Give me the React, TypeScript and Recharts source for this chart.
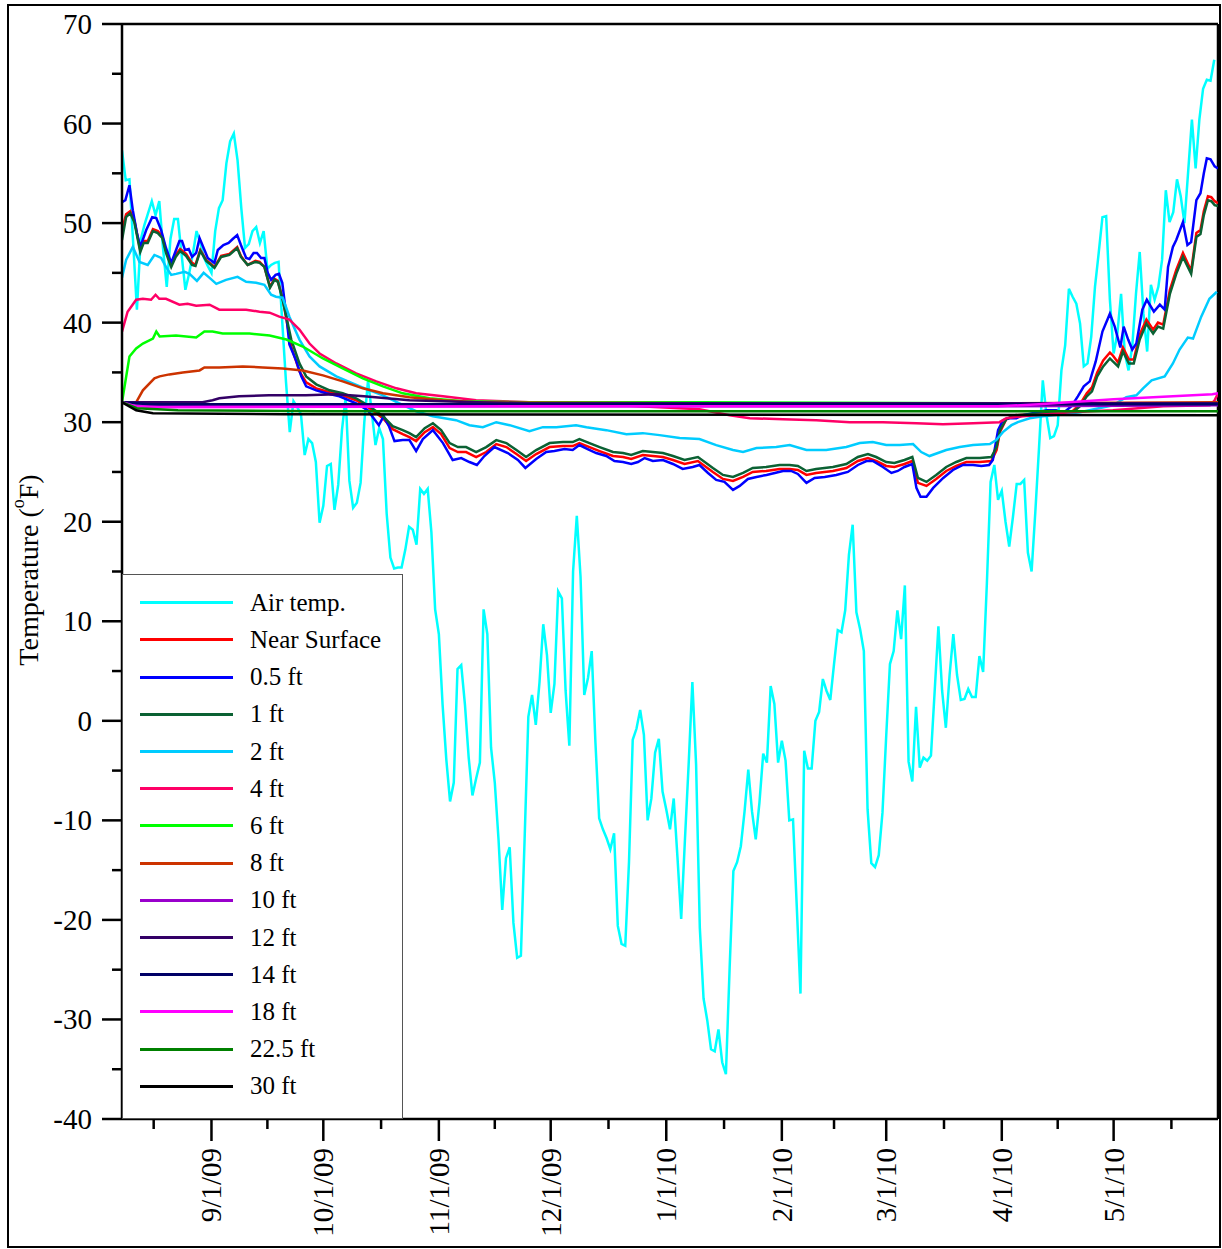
import { Label, Line, LineChart, ReferenceLine, XAxis, YAxis } from "recharts";

const FONT = '"Liberation Serif", "Times New Roman", serif';

// x values are days counted from 8/1/09
const MONTH_TICKS = [31, 61, 92, 122, 153, 184, 212, 243, 273];
const MONTH_LABELS = ["9/1/09", "10/1/09", "11/1/09", "12/1/09", "1/1/10", "2/1/10", "3/1/10", "4/1/10", "5/1/10"];
const MID_TICKS = [15.5, 46, 76.5, 107, 137.5, 168.5, 198, 227.5, 258, 288.5];
const Y_TICKS = [-40, -35, -30, -25, -20, -15, -10, -5, 0, 5, 10, 15, 20, 25, 30, 35, 40, 45, 50, 55, 60, 65, 70];

// daily air temperature, first value is 8/8/09
const AIR_START_DAY = 7;
const AIR_TEMP = [
  57.3, 54.3, 54.4, 48, 41.3, 48.3, 49.8, 51, 52.2, 50.8, 52.2, 47.5, 43.6, 48.4, 50.4, 50.4, 46.8, 43.3, 44.9, 46.9,
  49.2, 48, 46.5, 45.7, 45, 49.2, 51.5, 52.3, 56, 58.2, 59, 56.3, 51.5, 47.5, 47.9, 49.2, 49.6, 48, 49.2, 45.4,
  45.8, 46, 46.1, 40, 34, 29, 32.1, 31.5, 30.8, 26.7, 28.3, 27.9, 26, 19.9, 21.6, 25.6, 25.8, 21.2, 23.7, 29.2,
  32.5, 24.1, 21.4, 21.9, 23.9, 30, 34.2, 31, 27.7, 29.4, 28.3, 20.8, 16.4, 15.3, 15.4, 15.4, 17.2, 19.5, 19.2, 17.7,
  23.3, 22.8, 23.3, 18.9, 11.2, 8.7, 1.6, -3.9, -8.1, -6.2, 5.2, 5.6, 1.6, -3.7, -7.5, -5.8, -4.2, 11.2, 8.7, -2.7,
  -6.2, -11.9, -19, -13.8, -12.7, -20.3, -23.8, -23.6, -11.9, 0.4, 2.6, -0.4, 3.9, 9.7, 6.6, 0.8, 3.7, 13, 12.3, 3,
  -2.5, 15, 20.6, 14.5, 2.6, 4.3, 7, -2.2, -9.8, -10.9, -11.8, -12.9, -11.3, -20.6, -22.4, -22.6, -14.2, -1.9, -0.8, 1.1,
  -1.4, -10, -7.8, -3.2, -1.8, -7.1, -8.9, -10.9, -7.8, -13.7, -19.9, -12, -4.4, 3.9, -4.4, -20.8, -27.9, -30.1, -33, -33.2,
  -31, -34.3, -35.5, -24.8, -15.1, -14.2, -12.6, -9.1, -4.9, -9.1, -11.9, -8.2, -3.3, -4.2, 3.5, 1.7, -4.2, -2, -4, -10,
  -9.9, -18.6, -27.4, -3, -4.8, -4.8, 0, 0.9, 4.2, 3, 2.1, 5.7, 9.1, 8.9, 11.1, 16.7, 19.7, 10.9, 9.2, 7,
  -8.9, -14.3, -14.7, -13.5, -9.2, -1.5, 5.7, 7, 11.1, 8.2, 13.6, -4.1, -6.1, 1.4, -4.7, -3.7, -4, -3.5, 3, 9.5,
  3, -0.7, 4.6, 8.7, 4.6, 2.1, 2.2, 3.2, 2.4, 2.4, 6.5, 4.9, 13.8, 24, 25.7, 22.2, 23.1, 20, 17.5, 20.5,
  23.8, 23.8, 24.2, 16.9, 15, 21, 27.5, 34.2, 30.7, 28.4, 28.6, 29.7, 35.2, 37.7, 43.4, 42.6, 41.9, 39.9, 35.6, 35.9,
  38.6, 43.6, 47, 50.6, 50.7, 42.3, 36.9, 38.9, 42.9, 36.9, 35.2, 37.6, 42.9, 47.1, 40.9, 37.1, 43.8, 42.3, 43.6, 46.3,
  53.3, 50.1, 51.1, 54.4, 52.7, 50, 55.2, 60.4, 55.5, 60.4, 63.5, 64.4, 64.3, 66.4,
];

// soil series: [day, temperature]
const NEAR_SURFACE: [number, number][] = [
  [7, 49.3], [8.1, 50.9], [9.2, 51.2], [10.3, 50.3], [11.9, 47.3], [12.8, 48.2], [13.9, 48.2], [15.3, 49.4], [16.6, 49.2],
  [17.8, 48.7], [18.8, 47.2], [20.2, 45.8], [21.4, 46.8], [22.6, 47.4], [24.2, 46.9], [25.8, 46], [26.7, 45.8], [28, 47.3],
  [29.6, 46.3], [31.8, 45.6], [33.6, 46.7], [35.8, 46.9], [37.9, 47.6], [38.9, 46.7], [40.7, 45.8], [42.8, 46.2], [43.9, 46.1],
  [45.2, 45.6], [46.7, 43.6], [47.9, 44.4], [48.8, 44.2], [50.1, 42.4], [52.4, 37.6], [54.6, 35.1], [56.4, 34], [59.1, 33.4],
  [62.7, 33], [66.2, 32.7], [69.8, 32.2], [73.4, 31.4], [77, 30.4], [79.6, 29.3], [82.3, 28.8], [84.1, 28.5], [85.9, 28.1],
  [88.2, 29], [90.4, 29.5], [92.6, 28.8], [94.9, 27.4], [97.1, 27], [99.3, 27], [102, 26.5], [104.7, 27], [107.4, 27.8],
  [110.1, 27.5], [112.8, 26.8], [115.4, 26.1], [118.1, 26.8], [121.7, 27.5], [125.3, 27.6], [127.9, 27.6], [129.7, 27.9],
  [132.4, 27.5], [135.1, 27.1], [138.7, 26.6], [141.4, 26.5], [143.6, 26.3], [146.7, 26.7], [149.4, 26.6], [152.1, 26.5],
  [154.8, 26.2], [157.9, 25.8], [161.5, 26.1], [165.5, 25], [168.2, 24.3], [170.9, 24.1], [173.6, 24.5], [176.2, 25],
  [179.8, 25.1], [183.4, 25.3], [186.1, 25.3], [188.3, 25.2], [190.6, 24.7], [193.2, 24.9], [197.7, 25.1], [201.3, 25.4],
  [204.4, 26.1], [207.1, 26.4], [209.3, 26.1], [212, 25.6], [214.2, 25.5], [216.9, 25.8], [219, 26.1], [220.5, 23.9],
  [222.8, 23.6], [225.4, 24.3], [228.1, 25.1], [230.8, 25.6], [233.5, 26], [237.1, 26], [240.2, 26.1], [241.6, 27.2],
  [242.5, 29], [244.2, 30.3], [246.5, 30.7], [251.4, 30.8], [255, 30.9], [261.7, 31], [264, 31.8], [265.8, 32.9],
  [267.2, 33.5], [268.6, 35], [270.2, 36.2], [272, 37], [272.8, 36.7], [274.2, 36], [275.5, 37.5], [277.1, 36.3],
  [278.4, 36.3], [280, 38.8], [281.8, 40.3], [283.6, 39.3], [284.9, 40], [286.3, 39.8], [288.1, 43.3], [289.8, 45.3],
  [291.6, 47], [293.8, 45.2], [295.2, 49], [296.3, 49.3], [297.2, 51.2], [298.3, 52.7], [299.2, 52.6], [300.1, 52.2], [301, 52],
];

const HALF_FT: [number, number][] = [
  [7, 52.1], [7.9, 52.3], [9, 53.8], [9.9, 51.3], [11, 49], [11.9, 47.6], [13.5, 49.3], [15.1, 50.6], [16.2, 50.5],
  [17.5, 49.3], [18.8, 47.5], [20.2, 46], [21.5, 47.3], [22.4, 48.2], [23.1, 48.2], [23.9, 47.3], [24.9, 47.4], [25.8, 46.6],
  [26.9, 47], [27.8, 48.5], [28.9, 47.5], [30, 46.5], [31.8, 46], [32.7, 47.3], [34.2, 47.8], [35.6, 48], [36.7, 48.4],
  [37.9, 48.8], [38.9, 47.8], [40.3, 46.5], [41.2, 46.4], [42.3, 47], [43.2, 47], [44.3, 46.5], [45.2, 46.5], [46.1, 45],
  [47, 44.3], [48.2, 44.8], [49.1, 44.9], [50, 44], [51.2, 40.3], [51.9, 37.8], [53.7, 36.2], [55.1, 34.6], [56.4, 33.6],
  [59.1, 33.2], [61.8, 32.9], [65.3, 32.6], [69.8, 31.9], [72.9, 31.2], [75.9, 29.7], [77.2, 30.6], [78.6, 29.6], [80.1, 28.1],
  [82.3, 28.2], [84.1, 28.2], [85.9, 27.1], [87.7, 28.3], [90.4, 29.2], [93.1, 27.9], [95.7, 26.2], [98, 26.4], [100.2, 26],
  [102.2, 25.7], [104.2, 26.6], [106.9, 27.5], [110.5, 26.9], [113.2, 26.2], [115.2, 25.4], [118.1, 26.3], [120.8, 27],
  [123, 27.1], [125.7, 27.3], [127.9, 27.2], [129.7, 27.7], [131.9, 27.3], [134.2, 26.9], [136.9, 26.6], [139.1, 26.1],
  [141.4, 26], [143.6, 25.8], [145.4, 26], [147.2, 26.4], [149.4, 26.1], [152.1, 26.2], [154.8, 25.8], [157.4, 25.3],
  [160.1, 25.5], [161.9, 25.7], [164.2, 24.9], [166.4, 24.2], [168.6, 24], [170.9, 23.2], [172.7, 23.6], [174.9, 24.3],
  [177.2, 24.5], [179.9, 24.7], [182.1, 24.9], [184.3, 25.1], [186.5, 25.1], [188.3, 24.8], [190.6, 23.9], [192.8, 24.4],
  [195.5, 24.5], [198.6, 24.7], [201.7, 25], [204.4, 25.7], [206.7, 26.1], [208.4, 26.1], [211.1, 25.5], [213.4, 24.9],
  [215.1, 25.1], [216.9, 25.5], [219, 25.8], [220.1, 23.4], [221.2, 22.5], [222.8, 22.5], [224.6, 23.4], [227.3, 24.4],
  [229.9, 25.2], [232.6, 25.7], [235.3, 25.7], [237.5, 25.6], [239.6, 25.7], [240.6, 26.2], [242, 29.2], [243.3, 30.2],
  [245.1, 30.4], [246.9, 30.4], [248.7, 30.7], [255, 31.2], [257.6, 31.2], [259.4, 30.9], [261.7, 31.6], [263.4, 32.6],
  [265, 33.6], [266.6, 34.1], [268.2, 36.1], [270, 39.1], [272, 40.9], [273.3, 39.6], [274.8, 37.5], [275.7, 39.6],
  [276.9, 38.3], [278, 37.3], [279.1, 37.9], [280.7, 41.3], [281.9, 42.3], [283.8, 41.1], [285.4, 41.8], [286.7, 41.3],
  [287.6, 45.6], [288.9, 47.6], [289.8, 48.3], [291.6, 50.1], [292.8, 47.8], [293.8, 48.1], [295.2, 52.3], [296.3, 53],
  [297.2, 55], [298, 56.5], [299, 56.4], [300.1, 55.7], [301, 55.5],
];

const ONE_FT: [number, number][] = [
  [7, 48.3], [8.1, 50.6], [9.2, 51], [10.3, 50.1], [11.9, 47.1], [12.8, 48], [13.9, 48], [15.3, 49.2], [16.6, 49],
  [17.8, 48.5], [18.8, 47], [20.2, 45.6], [21.4, 46.6], [22.6, 47.2], [24.2, 46.7], [25.8, 45.8], [26.7, 45.7], [28, 47.2],
  [29.6, 46.2], [31.8, 45.5], [33.6, 46.6], [35.8, 46.8], [37.9, 47.5], [38.9, 46.6], [40.7, 45.8], [42.8, 46.1], [43.9, 46],
  [45.2, 45.6], [46.7, 43.5], [47.9, 44.3], [48.8, 44.1], [50.1, 42.3], [52.4, 38.3], [54.6, 35.9], [56.4, 34.6], [59.1, 33.8],
  [62.7, 33.2], [66.2, 32.9], [69.8, 32.4], [73.4, 31.6], [77, 30.6], [79.6, 29.6], [82.3, 29.2], [84.1, 28.9], [85.9, 28.5],
  [88.2, 29.4], [90.4, 29.9], [92.6, 29.2], [94.9, 27.9], [97.1, 27.5], [99.3, 27.5], [102, 27], [104.7, 27.5], [107.4, 28.2],
  [110.1, 27.9], [112.8, 27.2], [115.4, 26.5], [118.1, 27.2], [121.7, 27.9], [125.3, 28], [127.9, 28], [129.7, 28.3],
  [132.4, 27.9], [135.1, 27.5], [138.7, 27], [141.4, 26.9], [143.6, 26.7], [146.7, 27.1], [149.4, 27], [152.1, 26.9],
  [154.8, 26.6], [157.9, 26.2], [161.5, 26.5], [165.5, 25.4], [168.2, 24.7], [170.9, 24.5], [173.6, 24.9], [176.2, 25.4],
  [179.8, 25.5], [183.4, 25.7], [186.1, 25.7], [188.3, 25.6], [190.6, 25.1], [193.2, 25.3], [197.7, 25.5], [201.3, 25.8],
  [204.4, 26.5], [207.1, 26.8], [209.3, 26.5], [212, 26], [214.2, 25.9], [216.9, 26.2], [219, 26.5], [220.5, 24.4],
  [222.8, 24], [225.4, 24.7], [228.1, 25.5], [230.8, 26], [233.5, 26.4], [237.1, 26.4], [240.2, 26.5], [241.6, 27.5],
  [242.5, 29.2], [244.2, 30.3], [246.5, 30.7], [251.4, 30.8], [255, 30.9], [261.7, 30.9], [264, 31.6], [265.8, 32.6],
  [267.2, 33.1], [268.6, 34.6], [270.2, 35.6], [272, 36.4], [272.8, 36.1], [274.2, 35.6], [275.5, 37.1], [277.1, 35.9],
  [278.4, 35.9], [280, 38.3], [281.8, 39.9], [283.6, 38.9], [284.9, 39.6], [286.3, 39.4], [288.1, 42.9], [289.8, 44.9],
  [291.6, 46.6], [293.8, 44.9], [295.2, 48.6], [296.3, 48.9], [297.2, 50.8], [298.3, 52.3], [299.2, 52.2], [300.1, 51.8], [301, 51.7],
];

const TWO_FT: [number, number][] = [
  [7, 44.5], [8.1, 46.3], [9.9, 47.6], [11.7, 46.1], [13.9, 45.8], [15.7, 46.8], [17.5, 46.5], [18.8, 45.6], [20.2, 44.8],
  [21.5, 44.9], [23.8, 45.1], [25.1, 44.9], [27.1, 44.2], [28.9, 45], [30.5, 44.5], [32.3, 43.9], [34.9, 44.3], [38, 44.6],
  [40.3, 44.1], [43, 44], [45.2, 43.8], [47, 42.8], [48.3, 42.6], [50.1, 42.5], [51.9, 40.6], [54.6, 38.3], [57.3, 36.6],
  [60, 35.6], [64.5, 34.6], [68.9, 33.9], [73.4, 33.2], [77, 32.7], [81.4, 31.9], [85.9, 31.1], [90.4, 30.6], [96.6, 30.2],
  [100.2, 29.7], [103.8, 29.5], [107.4, 30], [111, 29.7], [116.3, 29.1], [119.9, 29.5], [123.5, 29.5], [128.8, 29.7],
  [131.6, 29.5], [136.9, 29.2], [142.3, 28.8], [146.7, 28.9], [151.2, 28.7], [156.6, 28.4], [161.9, 28.3], [166.4, 27.7],
  [170.9, 27.2], [173.6, 27], [177.2, 27.4], [182.5, 27.5], [186.1, 27.7], [190.6, 27.2], [195.9, 27.2], [201.3, 27.5],
  [204.9, 27.9], [208.4, 28], [212, 27.7], [215.6, 27.7], [219.2, 27.8], [221.4, 27], [223.6, 26.6], [228.1, 27.2],
  [231.7, 27.5], [235.3, 27.7], [239.8, 27.8], [241.5, 28.2], [243.3, 29], [245.6, 29.7], [247.3, 30], [250.5, 30.4],
  [254, 30.6], [259.4, 30.8], [264, 31], [272.8, 31.7], [276.4, 32.5], [279.1, 32.7], [280.9, 33.4], [283.2, 34.2],
  [286.7, 34.6], [288.9, 35.9], [290.7, 37.3], [292.9, 38.5], [294.3, 38.4], [296.5, 40.6], [298.7, 42.4], [300.7, 43.1],
];

const FOUR_FT: [number, number][] = [
  [7, 39.1], [8.5, 41.1], [10.8, 42.3], [12.6, 42.4], [14.8, 42.3], [16, 42.8], [17, 42.4], [18.8, 42.4], [22.4, 41.8],
  [24.6, 41.9], [26.9, 41.7], [30.5, 41.8], [33.1, 41.3], [40.3, 41.3], [43.9, 41.1], [46.6, 41], [49.2, 40.6], [51.9, 40.3],
  [54.6, 39.3], [57.3, 37.9], [60, 36.9], [64.5, 35.9], [69.8, 34.9], [75.2, 34.1], [80.6, 33.4], [85.9, 32.9], [93.1, 32.6],
  [102, 32.2], [116.3, 32], [135.1, 31.8], [161.9, 31.3], [170, 30.7], [175.4, 30.4], [184.3, 30.3], [193.2, 30.2],
  [202.2, 30], [211.1, 30], [220.1, 29.9], [227.2, 29.8], [235.3, 29.9], [242.4, 30], [244.2, 30.4], [248.7, 30.6],
  [255, 30.8], [261.2, 31], [272.8, 31.2], [286.3, 31.6], [298.8, 31.7], [300.1, 32.2], [301, 32.9],
];

const SIX_FT: [number, number][] = [
  [7, 32], [9, 36.6], [10.8, 37.4], [12.6, 37.9], [15.3, 38.4], [16.2, 39.1], [17.1, 38.6], [21.5, 38.7], [26.9, 38.5],
  [29.1, 39.1], [31.3, 39.1], [34, 38.9], [41.2, 38.9], [46.6, 38.7], [51.1, 38.3], [55.5, 37.6], [60.9, 36.4], [66.2, 35.4],
  [71.6, 34.4], [77, 33.6], [82.3, 32.9], [89.5, 32.4], [98.4, 32.1], [116.3, 32], [162, 32], [242, 31.9], [301, 31.9],
];

const EIGHT_FT: [number, number][] = [
  [7, 32], [10.8, 32], [12.6, 33.2], [15.7, 34.4], [17.1, 34.6], [19.7, 34.8], [23.3, 35], [27.8, 35.2], [29.1, 35.5],
  [33.1, 35.5], [39.4, 35.6], [44.8, 35.5], [50.1, 35.4], [55.5, 35.2], [60.9, 34.7], [66.2, 34.1], [71.6, 33.4], [77, 32.9],
  [84.1, 32.5], [93.1, 32.2], [102, 32], [162, 31.9], [242, 31.9], [301, 32],
];

const TEN_FT: [number, number][] = [[7, 32], [9, 31.7], [17, 31.6], [150, 31.6], [242, 31.6], [301, 31.7]];

const TWELVE_FT: [number, number][] = [
  [7, 32], [28.6, 32], [31.3, 32.2], [33.1, 32.4], [38.4, 32.6], [46.4, 32.7], [56.3, 32.7], [64.4, 32.8], [71.9, 32.6],
  [84.1, 32.2], [102, 32], [116.3, 31.9], [242, 31.9], [301, 31.9],
];

const FOURTEEN_FT: [number, number][] = [[7, 32], [14.4, 31.8], [150, 31.8], [242, 31.8], [301, 31.8]];

const EIGHTEEN_FT: [number, number][] = [
  [7, 32], [10.6, 31.6], [17, 31.5], [120, 31.6], [242, 31.6], [253, 31.8], [273, 32.3], [299.5, 32.8], [301, 32.9],
];

const TWENTY_TWO_FT: [number, number][] = [[7, 32], [11, 31.4], [22, 31.2], [60, 31.1], [301, 31.1]];

const THIRTY_FT: [number, number][] = [[7, 32], [10.8, 31.2], [15.3, 30.9], [50, 30.8], [301, 30.7]];

const toPoints = (pairs: [number, number][]) => pairs.map(([day, t]) => ({ day, t }));
const airPoints = AIR_TEMP.map((t, i) => ({ day: AIR_START_DAY + i, t }));

const SERIES = [
  { name: "Air temp.", color: "#00ffff", points: airPoints },
  { name: "Near Surface", color: "#ff0000", points: toPoints(NEAR_SURFACE) },
  { name: "0.5 ft", color: "#0000ff", points: toPoints(HALF_FT) },
  { name: "1 ft", color: "#0b6133", points: toPoints(ONE_FT) },
  { name: "2 ft", color: "#00ccff", points: toPoints(TWO_FT) },
  { name: "4 ft", color: "#ff0066", points: toPoints(FOUR_FT) },
  { name: "6 ft", color: "#00ff00", points: toPoints(SIX_FT) },
  { name: "8 ft", color: "#cc3300", points: toPoints(EIGHT_FT) },
  { name: "10 ft", color: "#9900cc", points: toPoints(TEN_FT) },
  { name: "12 ft", color: "#330066", points: toPoints(TWELVE_FT) },
  { name: "14 ft", color: "#000066", points: toPoints(FOURTEEN_FT) },
  { name: "18 ft", color: "#ff00ff", points: toPoints(EIGHTEEN_FT) },
  { name: "22.5 ft", color: "#008000", points: toPoints(TWENTY_TWO_FT) },
  { name: "30 ft", color: "#000000", points: toPoints(THIRTY_FT) },
];

function XTick({ x, y, payload }: { x?: number; y?: number; payload?: { value: number } }) {
  const idx = MONTH_TICKS.indexOf(payload?.value ?? -1);
  const major = idx >= 0;
  return (
    <g>
      <line x1={x} y1={y} x2={x} y2={(y ?? 0) + (major ? 22 : 10)} stroke="#000" strokeWidth={2.5} />
      {major && (
        <text
          transform={`translate(${x}, ${(y ?? 0) + 29}) rotate(-90)`}
          textAnchor="end"
          dominantBaseline="central"
          fontSize={29}
          fontFamily={FONT}
          fill="#000"
        >
          {MONTH_LABELS[idx]}
        </text>
      )}
    </g>
  );
}

function YTick({ x, y, payload }: { x?: number; y?: number; payload?: { value: number } }) {
  const v = payload?.value ?? 0;
  const major = v % 10 === 0;
  return (
    <g>
      <line x1={(x ?? 0) - (major ? 20 : 10)} y1={y} x2={x} y2={y} stroke="#000" strokeWidth={2.5} />
      {major && (
        <text x={(x ?? 0) - 30} y={y} textAnchor="end" dominantBaseline="central" fontSize={29} fontFamily={FONT} fill="#000">
          {v}
        </text>
      )}
    </g>
  );
}

function YTitle() {
  return (
    <text
      transform="translate(28, 570) rotate(-90)"
      textAnchor="middle"
      dominantBaseline="central"
      fontSize={28}
      fontFamily={FONT}
      fill="#000"
    >
      Temperature (
      <tspan dy={-10} fontSize={18}>o</tspan>
      <tspan dy={10}>F)</tspan>
    </text>
  );
}

export default function App() {
  return (
    <div style={{ position: "absolute", left: 0, top: 0, width: 1222, height: 1249, background: "#fff" }}>
      <LineChart width={1222} height={1249} margin={{ top: 24, right: 4, bottom: 0, left: 0 }}>
        <XAxis
          type="number"
          dataKey="day"
          domain={[7, 301]}
          allowDataOverflow
          ticks={[...MID_TICKS, ...MONTH_TICKS].sort((a, b) => a - b)}
          interval={0}
          height={130}
          tickSize={0}
          tickMargin={0}
          tickLine={false}
          axisLine={{ stroke: "#000", strokeWidth: 2.5 }}
          tick={(p) => <XTick {...p} />}
        />
        <YAxis
          type="number"
          domain={[-40, 70]}
          allowDataOverflow
          ticks={Y_TICKS}
          interval={0}
          width={122}
          tickSize={0}
          tickMargin={0}
          tickLine={false}
          axisLine={{ stroke: "#000", strokeWidth: 2.5 }}
          tick={(p) => <YTick {...p} />}
        >
          <Label content={() => <YTitle />} />
        </YAxis>
        <ReferenceLine y={70} stroke="#000" strokeWidth={2.5} />
        <ReferenceLine x={301} stroke="#000" strokeWidth={2.5} />
        {SERIES.map((s) => (
          <Line
            key={s.name}
            data={s.points}
            dataKey="t"
            name={s.name}
            type="linear"
            stroke={s.color}
            strokeWidth={2.5}
            dot={false}
            activeDot={false}
            isAnimationActive={false}
          />
        ))}
      </LineChart>

      <div
        style={{
          position: "absolute",
          left: 122,
          top: 574,
          width: 281,
          height: 545,
          boxSizing: "border-box",
          border: "1px solid #555",
          background: "#fff",
        }}
      >
        {SERIES.map((s, i) => (
          <div key={s.name} style={{ position: "absolute", left: 0, top: 27.7 + i * 37.2, width: "100%" }}>
            <div style={{ position: "absolute", left: 17, top: -1.5, width: 93, height: 3, background: s.color }} />
            <div
              style={{
                position: "absolute",
                left: 127,
                top: -15,
                fontFamily: FONT,
                fontSize: 25,
                lineHeight: "30px",
                color: "#000",
                whiteSpace: "nowrap",
              }}
            >
              {s.name}
            </div>
          </div>
        ))}
      </div>

      <div
        style={{
          position: "absolute",
          left: 7,
          top: 4,
          width: 1214,
          height: 1244,
          boxSizing: "border-box",
          border: "2px solid #000",
          pointerEvents: "none",
        }}
      />
    </div>
  );
}
